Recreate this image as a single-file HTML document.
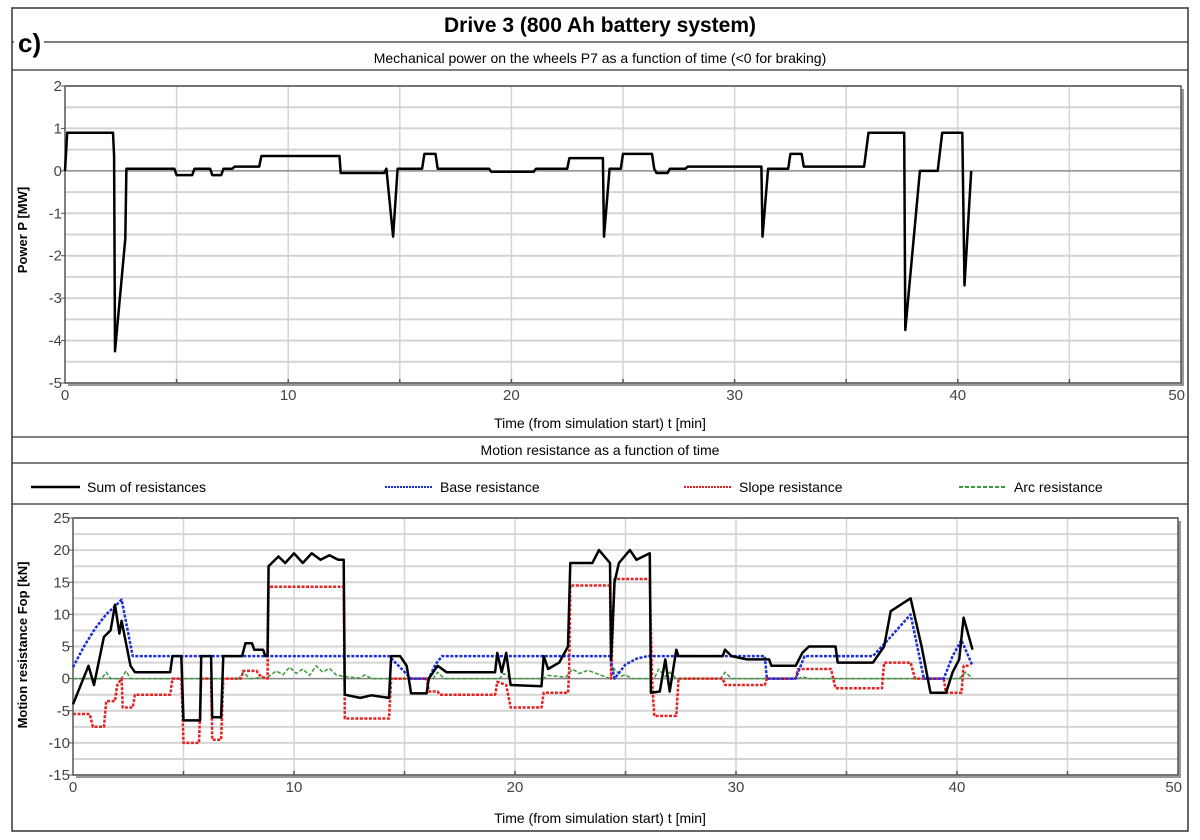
<!DOCTYPE html>
<html><head><meta charset="utf-8"><style>
html,body{margin:0;padding:0;background:#fff;width:1200px;height:840px;overflow:hidden}
svg{display:block;font-family:"Liberation Sans",sans-serif}
</style></head><body>
<svg id="c" width="1200" height="840" viewBox="0 0 1200 840">
<rect x="12" y="8" width="1176" height="823" fill="none" stroke="#333" stroke-width="1.5"/>
<line x1="12" y1="42" x2="1188" y2="42" stroke="#333" stroke-width="1.3"/>
<rect x="14" y="22" width="30" height="36" fill="#fff"/>
<text x="18" y="52" font-size="26" font-weight="bold">c)</text>
<text x="600" y="32" font-size="21" font-weight="bold" text-anchor="middle">Drive 3 (800 Ah battery system)</text>
<text x="600" y="63" font-size="14" text-anchor="middle">Mechanical power on the wheels P7 as a function of time (&lt;0 for braking)</text>
<line x1="12" y1="70" x2="1188" y2="70" stroke="#333" stroke-width="1.3"/>
<text x="600" y="428" font-size="14" text-anchor="middle">Time (from simulation start) t [min]</text>
<line x1="12" y1="437" x2="1188" y2="437" stroke="#333" stroke-width="1.3"/>
<text x="600" y="455" font-size="14" text-anchor="middle">Motion resistance as a function of time</text>
<line x1="12" y1="463" x2="1188" y2="463" stroke="#333" stroke-width="1.3"/>
<g>
<g><line x1="31" y1="487" x2="80" y2="487" stroke="#000" stroke-width="2.5"/><text x="87" y="492" font-size="14">Sum of resistances</text></g>
<g><line x1="385" y1="487" x2="433" y2="487" stroke="#1a2fd8" stroke-width="2" stroke-dasharray="2,1"/><text x="440" y="492" font-size="14">Base resistance</text></g>
<g><line x1="684" y1="487" x2="732" y2="487" stroke="#e52222" stroke-width="2" stroke-dasharray="2,1"/><text x="739" y="492" font-size="14">Slope resistance</text></g>
<g><line x1="959" y1="487" x2="1007" y2="487" stroke="#3a9a3a" stroke-width="2" stroke-dasharray="4,2"/><text x="1014" y="492" font-size="14">Arc resistance</text></g>
</g>
<line x1="12" y1="504" x2="1188" y2="504" stroke="#333" stroke-width="1.3"/>
<text x="600" y="823" font-size="14" text-anchor="middle">Time (from simulation start) t [min]</text>
<text transform="translate(27,230) rotate(-90)" font-size="13" font-weight="bold" text-anchor="middle">Power P [MW]</text>
<text transform="translate(27,645) rotate(-90)" font-size="13" font-weight="bold" text-anchor="middle">Motion resistance Fop [kN]</text>
<g id="g1"></g><g id="g2"></g>
</svg>
<script>
// Upper chart data
const powerT=[0,0.1,2.15,2.2,2.24,2.7,2.75,4.9,5.0,5.7,5.8,6.5,6.6,7.0,7.1,7.5,7.6,8.7,8.8,12.3,12.35,14.3,14.4,14.7,14.9,16.0,16.1,16.6,16.7,19.0,19.1,21.0,21.1,22.5,22.6,24.1,24.15,24.4,24.9,25.0,26.3,26.4,26.5,27.0,27.1,27.8,27.9,31.2,31.25,31.5,32.4,32.5,33.0,33.1,35.8,36.0,37.6,37.65,38.3,39.1,39.3,40.2,40.3,40.6];
const powerV=[0,0.9,0.9,0.35,-4.25,-1.6,0.05,0.05,-0.1,-0.1,0.05,0.05,-0.1,-0.1,0.05,0.05,0.1,0.1,0.35,0.35,-0.05,-0.05,0.05,-1.55,0.05,0.05,0.4,0.4,0.05,0.05,-0.02,-0.02,0.05,0.05,0.3,0.3,-1.55,0.05,0.05,0.4,0.4,0.05,-0.05,-0.05,0.05,0.05,0.1,0.1,-1.55,0.05,0.05,0.4,0.4,0.1,0.1,0.9,0.9,-3.75,0,0,0.9,0.9,-2.7,0];
const powerTicks=[2,1,0,-1,-2,-3,-4,-5];
const timeTicks=[0,10,20,30,40,50];
// Lower chart data
const sumT=[0,0.7,0.95,1.4,1.7,1.9,2.1,2.2,2.6,2.8,4.4,4.5,4.9,5.0,5.75,5.8,6.25,6.3,6.7,6.8,7.65,7.8,8.1,8.2,8.6,8.7,8.8,8.85,9.3,9.6,10.0,10.4,10.8,11.2,11.6,12.0,12.25,12.3,13.0,13.5,14.3,14.4,14.8,15.1,15.3,16.0,16.1,16.5,16.9,19.1,19.2,19.4,19.6,19.8,21.2,21.3,21.5,22.0,22.4,22.5,23.5,23.8,24.3,24.35,24.5,24.7,25.2,25.5,26.1,26.15,26.55,26.8,27.0,27.3,27.4,29.4,29.5,29.8,30.5,31.5,31.6,32.7,33.0,33.3,34.5,34.6,36.2,36.7,37.0,37.9,38.4,38.8,39.5,39.8,40.1,40.3,40.7];
const sumV=[-4,2,-1,6.5,7.5,11.5,7,9,2,1,1,3.5,3.5,-6.5,-6.5,3.5,3.5,-6,-6,3.5,3.5,5.5,5.5,4.5,4.5,3.5,3.5,17.5,19,18,19.5,18,19.5,18.5,19.2,18.5,18.5,-2.5,-3,-2.6,-3,3.5,3.5,2,-2.3,-2.3,0,2,1,1,4,1,4,-1,-1.2,3.5,1.5,2.5,5,18,18,20,18,3,15,18,20,18.5,19.5,-2.2,-2,3,-2,4.5,3.5,3.5,4.5,3.5,3,3,2,2,4,5,5,2.5,2.5,5,10.5,12.5,5,-2.2,-2.2,1,3,9.5,4.5];
const baseT=[0,0.5,1.0,1.5,2.0,2.2,2.7,14.3,15.3,16.1,16.4,16.7,24.3,24.5,25.0,25.5,26.0,31.3,31.4,32.7,33.1,36.2,37.0,37.9,38.5,39.4,39.8,40.2,40.7];
const baseV=[1.8,5,7.8,10,11.6,12.3,3.5,3.5,0,0,2.2,3.5,3.5,0,2.2,3.1,3.5,3.5,0,0,3.5,3.5,6.5,10,0,0,3.5,6,2];
const slopeT=[0,0.75,0.9,1.4,1.5,1.9,2.0,2.2,2.25,2.7,2.8,4.4,4.5,4.9,5.0,5.7,5.8,6.25,6.3,6.7,6.8,7.6,7.7,8.3,8.5,8.8,8.85,12.25,12.3,14.3,14.4,16.0,16.1,16.5,16.6,19.1,19.2,19.6,19.8,21.2,21.3,22.4,22.45,22.5,24.3,24.35,24.5,26.1,26.2,26.3,27.3,27.4,29.4,29.5,31.3,31.4,32.7,32.8,34.3,34.5,36.6,36.7,37.9,38.1,39.4,39.5,40.2,40.3,40.6];
const slopeV=[-5.5,-5.5,-7.5,-7.5,-3.5,-3.5,-1,0,-4.5,-4.5,-2.5,-2.5,0,0,-10,-10,0,0,-9.5,-9.5,0,0,1.2,1.2,0.3,0,14.3,14.3,-6.2,-6.2,0,0,-2,-2,-2.5,-2.5,-0.5,-1,-4.5,-4.5,-2.2,-2.2,1,14.5,14.5,0,15.5,15.5,0,-5.8,-5.8,0,0,-1,-1,0,0,1.5,1.5,-1.5,-1.5,2.5,2.5,0,0,-2.2,-2.2,2,2];
const arcT=[0,1.3,1.5,1.7,2.2,2.4,2.6,7.5,7.7,8.0,8.8,9.2,9.5,9.8,10.1,10.4,10.7,11.0,11.3,11.6,11.9,12.3,13.0,13.2,13.5,16.3,16.5,16.8,19.3,19.5,19.8,21.3,21.5,22.3,22.6,22.9,23.3,24.3,24.5,24.8,25.0,25.3,26.3,26.5,26.8,27.0,27.3,29.3,29.5,29.8,32.8,33.0,33.3,40.1,40.4,40.7];
const arcV=[0,0,1,0,0,1.2,0,0,1,0,0.2,1.2,0.6,1.8,0.8,1.5,0.5,2,1,1.6,0.6,0.3,0.1,0.6,0,0,1,0,0,0.8,0,0,0.5,0.2,1.5,0.8,1.3,0,1.5,0.4,0.6,0,0,1.5,0.3,1,0,0,1,0,0,0.3,0,0,1,0];
const resTicks=[25,20,15,10,5,0,-5,-10,-15];

const NS="http://www.w3.org/2000/svg";
function mk(p,tag,a){const e=document.createElementNS(NS,tag);for(const k in a)e.setAttribute(k,a[k]);p.appendChild(e);return e;}
function chart(g,L,R,T,B,ymin,ymax,minorStep,yTicks,name){
  const X=t=>L+(R-L)*t/50, Y=v=>B-(B-T)*(v-ymin)/(ymax-ymin);
  const sh=mk(g,'rect',{x:L+3,y:T+3,width:R-L,height:B-T,fill:'#999'});
  
  
  const bg=mk(g,'rect',{x:L,y:T,width:R-L,height:B-T,fill:'#fff'});
  
  
  for(let v=ymin;v<=ymax+1e-9;v+=minorStep){const l=mk(g,'line',{x1:L,x2:R,y1:Y(v),y2:Y(v),stroke:'#d4d4d4','stroke-width':2});
    
    }
  for(let t=5;t<50;t+=5){const l=mk(g,'line',{x1:X(t),x2:X(t),y1:T,y2:B,stroke:'#d4d4d4','stroke-width':1.5});
    
    
    mk(g,'line',{x1:X(t),x2:X(t),y1:B-4,y2:B,stroke:'#555','stroke-width':1.5});}
  const z=mk(g,'line',{x1:L,x2:R,y1:Y(0),y2:Y(0),stroke:'#888','stroke-width':1.3});
  
  
  const fr=mk(g,'rect',{x:L,y:T,width:R-L,height:B-T,fill:'none',stroke:'#555','stroke-width':1.5});
  
  
  yTicks.forEach(v=>{const t=mk(g,'text',{x:L-3,y:Y(v)+5,'font-size':15,'text-anchor':'end',fill:'#444'});t.textContent=v;
    
    
    mk(g,'line',{x1:L-4,x2:L,y1:Y(v),y2:Y(v),stroke:'#555'});});
  timeTicks.forEach(v=>{const t=mk(g,'text',{x:X(v)+(v===50?4:0),y:B+17,'font-size':15,'text-anchor':v===50?'end':'middle',fill:'#444'});t.textContent=v;
    
    });
  return {X,Y};
}
function series(g,ax,ts,vs,color,w,dash,name){
  const p=mk(g,'polyline',{points:ts.map((t,i)=>ax.X(t).toFixed(1)+','+ax.Y(vs[i]).toFixed(1)).join(' '),fill:'none',stroke:color,'stroke-width':w,'stroke-linejoin':'round'});
  if(dash)p.setAttribute('stroke-dasharray',dash);
  
  
}
const g1=document.getElementById('g1'),g2=document.getElementById('g2');
const a1=chart(g1,65,1181,86,383,-5,2,0.5,powerTicks,'power-chart');
series(g1,a1,powerT,powerV,'#000',2.5,null,'power-line');
const a2=chart(g2,73,1178,518,775,-15,25,2.5,resTicks,'resistance-chart');
series(g2,a2,arcT,arcV,'#3a9a3a',1.5,'4,2','arc-resistance-line');
series(g2,a2,slopeT,slopeV,'#e52222',2.5,'3,1.5','slope-resistance-line');
series(g2,a2,baseT,baseV,'#1a2fd8',2.5,'3,1.5','base-resistance-line');
series(g2,a2,sumT,sumV,'#000',2.5,null,'sum-resistance-line');
</script>
</body></html>
